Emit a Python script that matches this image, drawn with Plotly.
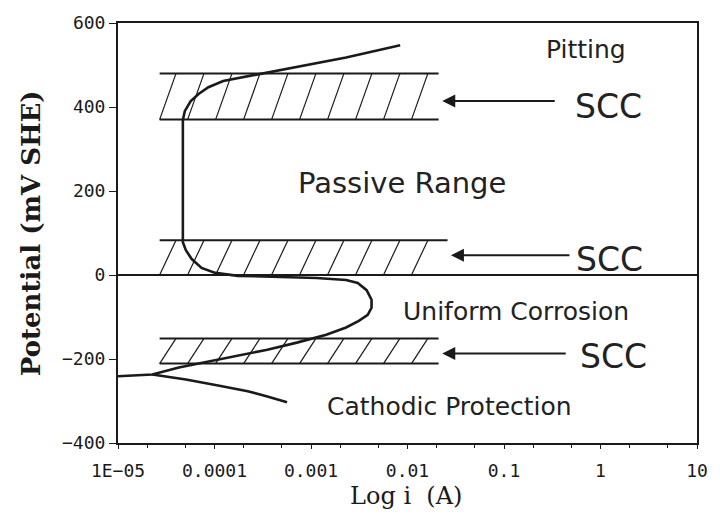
import math
import plotly.graph_objects as go

# Anodic polarization branch: current (A) and potential (mV SHE)
anodic_i = [1.0e-5, 2.27e-5, 4.27e-5, 8.65e-5, 1.75e-4, 3.53e-4, 7.13e-4, 1.44e-3,
            2.31e-3, 3.13e-3, 3.87e-3, 4.24e-3, 4.24e-3, 3.77e-3, 3.05e-3, 2.31e-3,
            1.14e-3, 4.47e-4, 1.75e-4, 1.02e-4, 7.34e-5, 5.81e-5, 5.05e-5, 4.7e-5,
            4.7e-5, 4.92e-5, 5.67e-5, 6.84e-5, 8.65e-5, 1.23e-4, 1.96e-4, 3.29e-4,
            7.13e-4, 2.31e-3, 8.4e-3]
anodic_mv = [-241, -237, -220, -206, -192, -178, -161, -142,
             -125, -109, -95, -78, -59, -36, -19, -12,
             -7, -5, -2, 5, 17, 38, 59, 78,
             369, 390, 414, 431, 447, 462, 471, 480,
             495, 518, 547]

# Cathodic branch
cathodic_i = [2.27e-5, 5.05e-5, 1.09e-4, 2.21e-4, 3.53e-4, 5.65e-4]
cathodic_mv = [-237, -249, -263, -277, -289, -303]

# SCC susceptibility bands (mV SHE) and their current extent (A)
band_low_mv = [370, 0, -211]
band_high_mv = [480, 83, -151]
band_i_start = [2.7e-5, 2.7e-5, 2.7e-5]
band_i_end = [0.021, 0.026, 0.021]

# Axis ticks
x_tick_vals = [1e-5, 1e-4, 1e-3, 1e-2, 1e-1, 1, 10]
x_tick_text = ["1E\u221205", "0.0001", "0.001", "0.01", "0.1", "1", "10"]
y_tick_vals = [-400, -200, 0, 200, 400, 600]
y_tick_text = ["\u2212400", "\u2212200", "0", "200", "400", "600"]

INK = "#1a1a1a"
HATCH_STEP = 0.29    # decades between hatch strokes
HATCH_SLANT = 0.17   # decades a stroke leans over the band height

fig = go.Figure()

# Band outlines (top and bottom edges) and diagonal hatching
for lo, hi, i0, i1 in zip(band_low_mv, band_high_mv, band_i_start, band_i_end):
    fig.add_trace(go.Scatter(
        x=[i0, i1, None, i0, i1], y=[hi, hi, None, lo, lo],
        mode="lines", line=dict(color=INK, width=2), hoverinfo="skip"))
    hx, hy = [], []
    start, stop = math.log10(i0), math.log10(i1)
    k = 0
    while start + k * HATCH_STEP + HATCH_SLANT <= stop + 1e-9:
        xb = start + k * HATCH_STEP
        hx += [10 ** xb, 10 ** (xb + HATCH_SLANT), None]
        hy += [lo, hi, None]
        k += 1
    fig.add_trace(go.Scatter(
        x=hx, y=hy, mode="lines", line=dict(color=INK, width=1.2),
        hoverinfo="skip"))

# Polarization curve
fig.add_trace(go.Scatter(x=anodic_i, y=anodic_mv, mode="lines",
                         line=dict(color=INK, width=2.6), hoverinfo="skip"))
fig.add_trace(go.Scatter(x=cathodic_i, y=cathodic_mv, mode="lines",
                         line=dict(color=INK, width=2.6), hoverinfo="skip"))

label_font = dict(family="DejaVu Sans", color="#222222")
annotations = []

# Region labels (paper coordinates)
for text, px, py, size in [
    ("Pitting", 0.808, 0.938, 25),
    ("Passive Range", 0.491, 0.618, 29),
    ("Uniform Corrosion", 0.688, 0.313, 25),
    ("Cathodic Protection", 0.572, 0.088, 25),
    ("SCC", 0.847, 0.801, 33),
    ("SCC", 0.849, 0.438, 33),
    ("SCC", 0.856, 0.206, 33),
]:
    annotations.append(dict(
        text=text, x=px, y=py, xref="paper", yref="paper",
        xanchor="center", yanchor="middle", showarrow=False,
        font=dict(size=size, **label_font)))

# Arrows pointing at each SCC band
for tip_log, tip_mv, tail in [(-1.64, 414, 114), (-1.55, 47, 120), (-1.64, -187, 125)]:
    annotations.append(dict(
        x=tip_log, y=tip_mv, xref="x", yref="y", ax=tail, ay=0,
        text="", showarrow=True, arrowhead=2, arrowsize=1.3,
        arrowwidth=2, arrowcolor=INK))

# Axis titles
annotations.append(dict(
    text="Potential (mV SHE)", x=-0.150, y=0.50, xref="paper", yref="paper",
    textangle=-90, showarrow=False, xanchor="center", yanchor="middle",
    font=dict(family="DejaVu Serif", size=26, color=INK, weight="bold")))
annotations.append(dict(
    text="Log i&nbsp;&nbsp;(A)", x=0.497, y=-0.125, xref="paper", yref="paper",
    showarrow=False, xanchor="center", yanchor="middle",
    font=dict(family="DejaVu Serif", size=24, color=INK)))

tick_font = dict(family="DejaVu Sans Mono", size=18, color=INK)

fig.update_layout(
    width=720, height=520,
    margin=dict(l=118, r=13, t=21, b=77),
    paper_bgcolor="white", plot_bgcolor="white",
    showlegend=False,
    annotations=annotations,
    xaxis=dict(
        type="log", range=[-5, 1],
        tickvals=x_tick_vals, ticktext=x_tick_text, tickfont=tick_font,
        showline=True, linecolor=INK, linewidth=2, mirror=True,
        ticks="outside", ticklen=4, tickcolor=INK, showgrid=False,
        minor=dict(ticks="outside", ticklen=3, tickcolor=INK, showgrid=False),
        ticklabelstandoff=6, zeroline=False,
    ),
    yaxis=dict(
        range=[-400, 600],
        tickvals=y_tick_vals, ticktext=y_tick_text, tickfont=tick_font,
        showline=True, linecolor=INK, linewidth=2, mirror=True,
        ticks="outside", ticklen=7, tickcolor=INK, showgrid=False,
        zeroline=True, zerolinecolor=INK, zerolinewidth=2,
    ),
)

fig.write_html("out.html")
